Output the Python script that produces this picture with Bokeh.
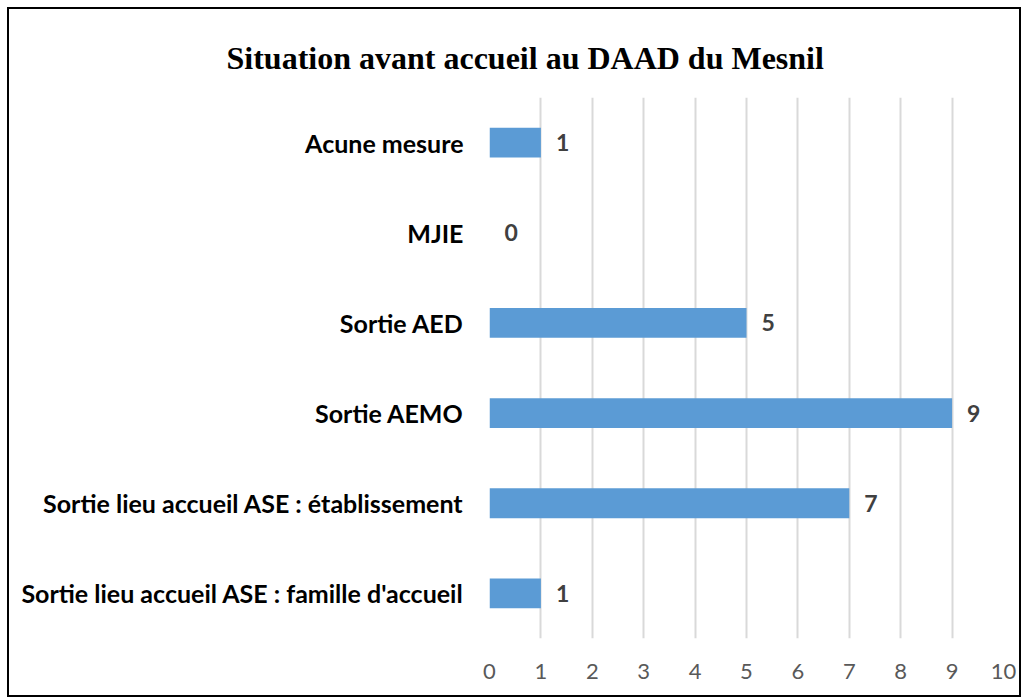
from bokeh.plotting import figure
from bokeh.models import Range1d, ColumnDataSource, LabelSet, FixedTicker
from bokeh.core.properties import value
from bokeh.embed import file_html
from bokeh.resources import INLINE

title_text = "Situation avant accueil au DAAD du Mesnil"
categories = ["Acune mesure", "MJIE", "Sortie AED", "Sortie AEMO",
              "Sortie lieu accueil ASE : établissement",
              "Sortie lieu accueil ASE : famille d'accueil"]
values = [1, 0, 5, 9, 7, 1]
x_ticks = [0, 1, 2, 3, 4, 5, 6, 7, 8, 9, 10]

src = ColumnDataSource(dict(cat=categories, val=values, lab=[str(v) for v in values]))

p = figure(width=1014, height=690, output_backend="svg", toolbar_location=None,
           y_range=list(reversed(categories)), x_range=Range1d(0, 10),
           title=title_text)
p.styles = {"margin-left": "7px", "margin-top": "7px", "border": "2px solid black"}
p.min_border_left = 480
p.min_border_right = 20
p.min_border_bottom = 61
p.min_border_top = 88
p.outline_line_color = None
p.border_fill_color = "white"

p.title.align = "left"
p.title.text_font = "Liberation Serif"
p.title.text_font_size = "32px"
p.title.text_font_style = "bold"
p.title.text_color = "black"
p.title.offset = -263
p.title.standoff = 43

p.hbar(y="cat", right="val", left=0, height=0.33, source=src,
       fill_color="#5b9bd5", line_color=None)
labels = LabelSet(x="val", y="cat", text="lab", source=src, x_offset=15,
                  text_baseline="middle", text_align="left",
                  text_font=value("Lato"), text_font_size="23px",
                  text_font_style="bold", text_color="#404040")
p.add_layout(labels)

p.xaxis.ticker = FixedTicker(ticks=x_ticks)
p.xaxis.axis_line_color = None
p.xaxis.major_tick_line_color = None
p.xaxis.minor_tick_line_color = None
p.xaxis.major_label_text_font = "Lato"
p.xaxis.major_label_text_font_size = "22px"
p.xaxis.major_label_text_color = "#595959"
p.xaxis.major_label_standoff = 19

p.yaxis.axis_line_color = None
p.yaxis.major_tick_line_color = None
p.yaxis.major_label_text_font = "Lato"
p.yaxis.major_label_text_font_size = "25px"
p.yaxis.major_label_text_font_style = "bold"
p.yaxis.major_label_text_color = "black"
p.yaxis.major_label_standoff = 20

p.xgrid.grid_line_color = "#d9d9d9"
p.xgrid.grid_line_width = 2
p.ygrid.grid_line_color = None

open("out.html", "w").write(file_html(p, INLINE))
